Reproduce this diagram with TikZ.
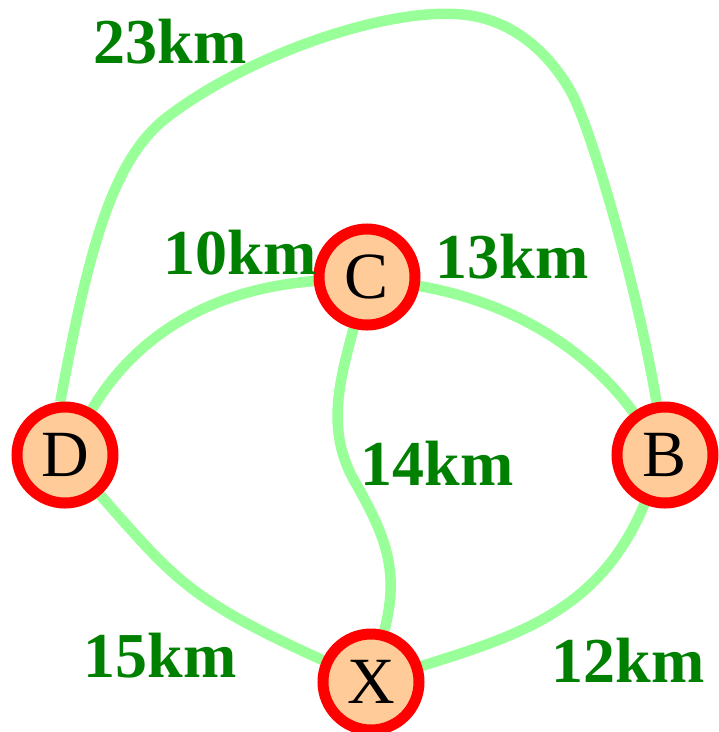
\documentclass[tikz,border=0pt]{standalone}
\usepackage{fontspec}
\setmainfont{Liberation Serif}
\usetikzlibrary{backgrounds}
\definecolor{peach}{RGB}{255,204,153}
\definecolor{edgegreen}{RGB}{153,255,153}
\definecolor{labgreen}{RGB}{0,128,0}
\tikzset{
  city/.style={circle, draw=red, fill=peach, line width=11pt, minimum size=96pt, inner sep=0pt,
    font=\fontsize{66}{72}\selectfont},
  road/.style={draw=edgegreen, line width=10.5pt},
  dist/.style={text=labgreen, inner sep=0pt, font=\fontsize{64}{70}\selectfont\bfseries}
}
\begin{document}
\begin{tikzpicture}[x=1pt,y=-1pt]
\useasboundingbox (0,0) rectangle (719,732);
\node[city] (C) at (367,277) {C};
\node[city] (D) at (65,455) {D};
\node[city] (B) at (665,455) {B};
\node[city] (X) at (371,682) {X};
\node[dist] (l23) at (170,42) {23km};
\node[dist] (l10) at (240,253) {10km};
\node[dist] (l13) at (512,257) {13km};
\node[dist] (l14) at (437,463) {14km};
\node[dist] (l15) at (160,656) {15km};
\node[dist] (l12) at (628,660) {12km};
\begin{pgfonlayer}{background}
\draw[road] (D.95) .. controls (90,240) and (115,155) .. (170,115)
  .. controls (250,55) and (380,10) .. (455,14)
  .. controls (510,16) and (548,52) .. (570,90)
  .. controls (592,128) and (640,300) .. (B);
\draw[road] (D) .. controls (130,345) and (200,290) .. (C);
\draw[road] (C) .. controls (500,300) and (580,340) .. (B);
\draw[road] (C) .. controls (340,380) and (325,430) .. (355,482)
  .. controls (385,535) and (400,570) .. (X);
\draw[road] (D) .. controls (175,580) and (190,600) .. (X);
\draw[road] (X) .. controls (520,635) and (600,610) .. (B);
\end{pgfonlayer}
\end{tikzpicture}
\end{document}
